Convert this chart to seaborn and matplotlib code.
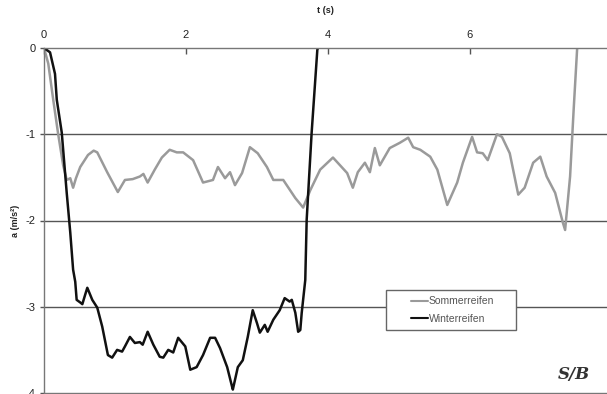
import matplotlib
matplotlib.use("Agg")
import matplotlib.pyplot as plt
from matplotlib.patches import Rectangle
import seaborn as sns
import pandas as pd

# Bremsverzögerung über der Zeit
t_sommer = [0.00, 0.06, 0.13, 0.20, 0.27, 0.32, 0.37, 0.41, 0.45, 0.51, 0.62, 0.70, 0.75, 0.89,
            1.04, 1.14, 1.25, 1.35, 1.40, 1.46, 1.56, 1.66, 1.77, 1.87, 1.96, 2.10, 2.24,
            2.38, 2.45, 2.55, 2.62, 2.69, 2.79, 2.90, 3.01, 3.14, 3.23, 3.37, 3.54,
            3.65, 3.75, 3.89, 4.07, 4.27, 4.35, 4.42, 4.52, 4.59, 4.66, 4.73, 4.87,
            5.01, 5.13, 5.20, 5.30, 5.44, 5.54, 5.68, 5.82, 5.90, 6.03, 6.10, 6.18,
            6.25, 6.38, 6.45, 6.56, 6.68, 6.77, 6.89, 6.99, 7.08, 7.20, 7.31, 7.34,
            7.41, 7.46, 7.51]
a_sommer = [0.00, -0.18, -0.60, -1.00, -1.36, -1.53, -1.51, -1.62, -1.51, -1.38, -1.24, -1.19, -1.21, -1.44,
            -1.67, -1.53, -1.52, -1.49, -1.46, -1.56, -1.41, -1.27, -1.18, -1.21, -1.21, -1.30, -1.56,
            -1.53, -1.38, -1.51, -1.44, -1.59, -1.45, -1.15, -1.22, -1.38, -1.53, -1.53, -1.74,
            -1.85, -1.65, -1.41, -1.27, -1.45, -1.62, -1.44, -1.33, -1.44, -1.16, -1.36, -1.16,
            -1.10, -1.04, -1.15, -1.18, -1.26, -1.41, -1.82, -1.56, -1.33, -1.03, -1.21, -1.22,
            -1.30, -1.00, -1.03, -1.22, -1.70, -1.62, -1.33, -1.26, -1.49, -1.68, -2.03, -2.11,
            -1.49, -0.72, 0.00]

t_winter = [0.00, 0.085, 0.155, 0.18, 0.25, 0.32, 0.37, 0.41, 0.44, 0.46, 0.51, 0.54,
            0.58, 0.61, 0.65, 0.68, 0.75, 0.82, 0.90, 0.96, 1.03, 1.10, 1.14, 1.21,
            1.28, 1.35, 1.39, 1.46, 1.54, 1.63, 1.68, 1.75, 1.82, 1.89, 1.99, 2.06,
            2.15, 2.24, 2.34, 2.41, 2.48, 2.58, 2.65, 2.66, 2.73, 2.80, 2.87, 2.94,
            3.00, 3.04, 3.11, 3.15, 3.23, 3.32, 3.39, 3.46, 3.49, 3.54, 3.58, 3.61,
            3.63, 3.68, 3.70, 3.77, 3.85, 3.86]
a_winter = [0.00, -0.05, -0.30, -0.60, -0.98, -1.68, -2.14, -2.57, -2.71, -2.92, -2.95, -2.97,
            -2.86, -2.78, -2.86, -2.92, -3.01, -3.23, -3.56, -3.59, -3.50, -3.52, -3.46, -3.35,
            -3.42, -3.41, -3.44, -3.29, -3.44, -3.58, -3.59, -3.50, -3.53, -3.36, -3.46, -3.73,
            -3.70, -3.56, -3.36, -3.36, -3.48, -3.70, -3.93, -3.96, -3.70, -3.62, -3.35, -3.04,
            -3.19, -3.30, -3.21, -3.29, -3.15, -3.04, -2.90, -2.94, -2.92, -3.07, -3.29, -3.27,
            -3.07, -2.69, -1.99, -0.98, -0.02, 0.00]

x_ticks = [0, 2, 4, 6]
y_ticks = [0, -1, -2, -3, -4]
series_names = ["Sommerreifen", "Winterreifen"]
series_colors = ["#9a9a9a", "#111111"]

df = pd.concat([
    pd.DataFrame({"t": t_sommer, "a": a_sommer, "Reifen": series_names[0]}),
    pd.DataFrame({"t": t_winter, "a": a_winter, "Reifen": series_names[1]}),
])

sns.set_style("white")
plt.rcParams["font.family"] = ["Liberation Sans", "DejaVu Sans"]

fig = plt.figure(figsize=(6.07, 3.94), dpi=100)
ax = fig.add_axes([44 / 607, 1 / 394, (607 - 44) / 607, (393 - 48) / 394])

for name, color in zip(series_names, series_colors):
    sns.lineplot(data=df[df["Reifen"] == name], x="t", y="a", color=color,
                 linewidth=1.8, sort=False, estimator=None, ax=ax, label=name)

ax.set_xlim(0, 7.93)
ax.set_ylim(-4, 0)

# horizontal grid
for y in y_ticks[1:-1]:
    ax.axhline(y, color="#555555", linewidth=1.0, zorder=0)

# axis at the top (x crosses at a = 0)
ax.xaxis.tick_top()
ax.xaxis.set_label_position("top")
ax.set_xticks(x_ticks)
ax.set_yticks(y_ticks)
ax.set_xticklabels([str(v) for v in x_ticks])
ax.set_yticklabels([str(v) for v in y_ticks])
ax.tick_params(axis="x", direction="in", length=4, width=1, color="#555555",
               labelsize=8, pad=6, labelcolor="#222222")
ax.tick_params(axis="y", direction="out", length=3, width=1, color="#555555",
               labelsize=8, pad=3, labelcolor="#222222", left=True)

ax.set_xlabel("t (s)", fontsize=6.5, fontweight="bold", labelpad=12, color="#222222")
ax.set_ylabel("a (m/s²)", fontsize=6.5, fontweight="bold", labelpad=4, color="#222222")

for side in ["top", "left", "bottom"]:
    ax.spines[side].set_visible(True)
    ax.spines[side].set_color("#777777")
    ax.spines[side].set_linewidth(1.0)
ax.spines["right"].set_visible(False)

# legend box
ax.add_patch(Rectangle((0.6075, 0.1826), 0.231, 0.116, transform=ax.transAxes,
                       facecolor="white", edgecolor="#666666", linewidth=1.0, zorder=3))
leg = ax.legend(loc="center", bbox_to_anchor=(0.726, 0.24), fontsize=7.5,
                handlelength=1.6, handletextpad=0.05, frameon=False,
                labelspacing=0.75, borderaxespad=0, borderpad=0)
leg.set_zorder(4)
for text in leg.get_texts():
    text.set_color("#555555")
for line in leg.get_lines():
    line.set_linewidth(1.5)

# Verlagslogo
fig.text(0.945, 0.05, "S/B", fontsize=12, fontweight="bold", fontstyle="italic",
         family="DejaVu Serif", color="#333333", ha="center", va="center")

fig.savefig("out.png", dpi=100)
